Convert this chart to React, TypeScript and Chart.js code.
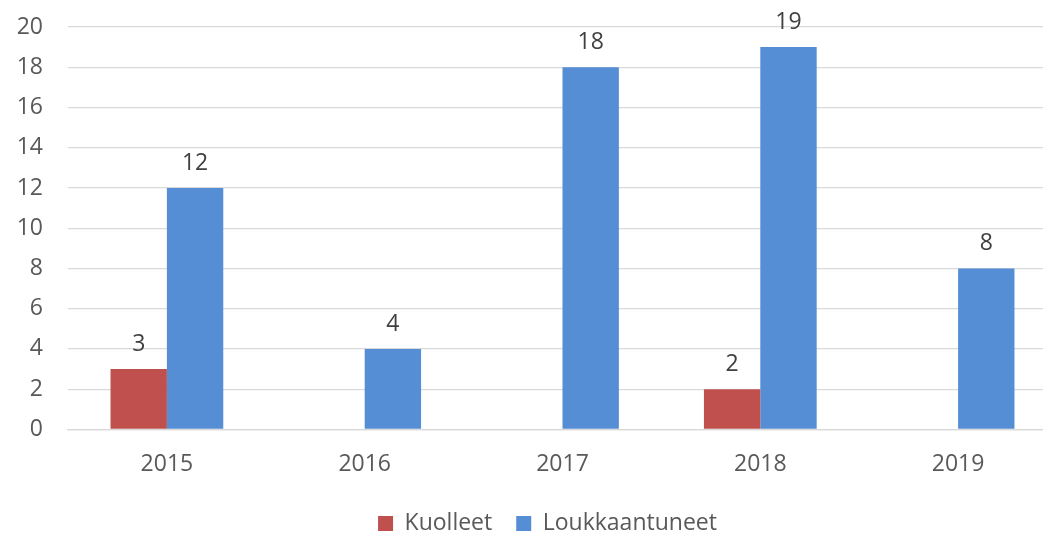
import React, { useEffect, useRef } from "react";
import { Chart, registerables } from "chart.js";

Chart.register(...registerables);

const categories = ["2015", "2016", "2017", "2018", "2019"];
const kuolleet = [3, 0, 0, 2, 0];
const loukkaantuneet = [12, 4, 18, 19, 8];
const yTicks = [0, 2, 4, 6, 8, 10, 12, 14, 16, 18, 20];

const FONT = "'Open Sans', sans-serif";

const dataLabels = {
  id: "dataLabels",
  afterDatasetsDraw(chart: any) {
    const ctx = chart.ctx;
    ctx.save();
    ctx.font = `23px ${FONT}`;
    ctx.fillStyle = "#404040";
    ctx.textAlign = "center";
    ctx.textBaseline = "alphabetic";
    chart.data.datasets.forEach((ds: any, i: number) => {
      const meta = chart.getDatasetMeta(i);
      meta.data.forEach((bar: any, j: number) => {
        const v = ds.data[j];
        if (!v) return;
        ctx.fillText(String(v), bar.x, bar.y - 18);
      });
    });
    ctx.restore();
  },
};

const legendShift = {
  id: "legendShift",
  afterLayout(chart: any) {
    const lg = chart.legend;
    if (lg) {
      lg.left -= 15;
      lg.right -= 15;
    }
  },
};

export default function App() {
  const ref = useRef<HTMLCanvasElement | null>(null);
  useEffect(() => {
    document.body.style.margin = "0";
    document.body.style.overflow = "hidden";
    document.documentElement.style.overflow = "hidden";
    const chart = new Chart(ref.current!, {
      type: "bar",
      data: {
        labels: categories,
        datasets: [
          {
            label: "Kuolleet",
            data: kuolleet,
            backgroundColor: "#C0504D",
            categoryPercentage: 0.57,
            barPercentage: 1,
          },
          {
            label: "Loukkaantuneet",
            data: loukkaantuneet,
            backgroundColor: "#558ED5",
            categoryPercentage: 0.57,
            barPercentage: 1,
          },
        ],
      },
      options: {
        animation: false,
        responsive: false,
        layout: { padding: { top: 27, right: 0, bottom: -12, left: 0 } },
        plugins: {
          legend: {
            position: "bottom",
            fullSize: false,
            labels: {
              font: { family: FONT, size: 23 },
              color: "#595959",
              boxWidth: 15,
              boxHeight: 15,
              padding: 24,
            },
          },
          tooltip: { enabled: false },
        },
        scales: {
          x: {
            grid: { display: false },
            border: { color: "#D9D9D9", width: 1.3 },
            ticks: { font: { family: FONT, size: 23 }, color: "#595959", padding: 13 },
            afterFit: (s: any) => {
              s.height = s.height - 3;
              s.paddingLeft = 0;
              s.paddingRight = 0;
            },
          },
          y: {
            min: 0,
            max: 20,
            afterBuildTicks: (s: any) => {
              s.ticks = yTicks.map((v) => ({ value: v }));
            },
            afterFit: (s: any) => {
              s.width = 68;
              s.paddingTop = 0;
              s.paddingBottom = 0;
            },
            grid: { color: "#D9D9D9", lineWidth: 1.3, drawTicks: false },
            border: { display: false },
            ticks: { font: { family: FONT, size: 23 }, color: "#595959", padding: 25 },
          },
        },
      },
      plugins: [dataLabels, legendShift],
    });
    return () => chart.destroy();
  }, []);
  return (
    <div style={{ width: 1043, height: 533, overflow: "hidden" }}>
      <canvas ref={ref} width={1057} height={533} style={{ display: "block" }} />
    </div>
  );
}
